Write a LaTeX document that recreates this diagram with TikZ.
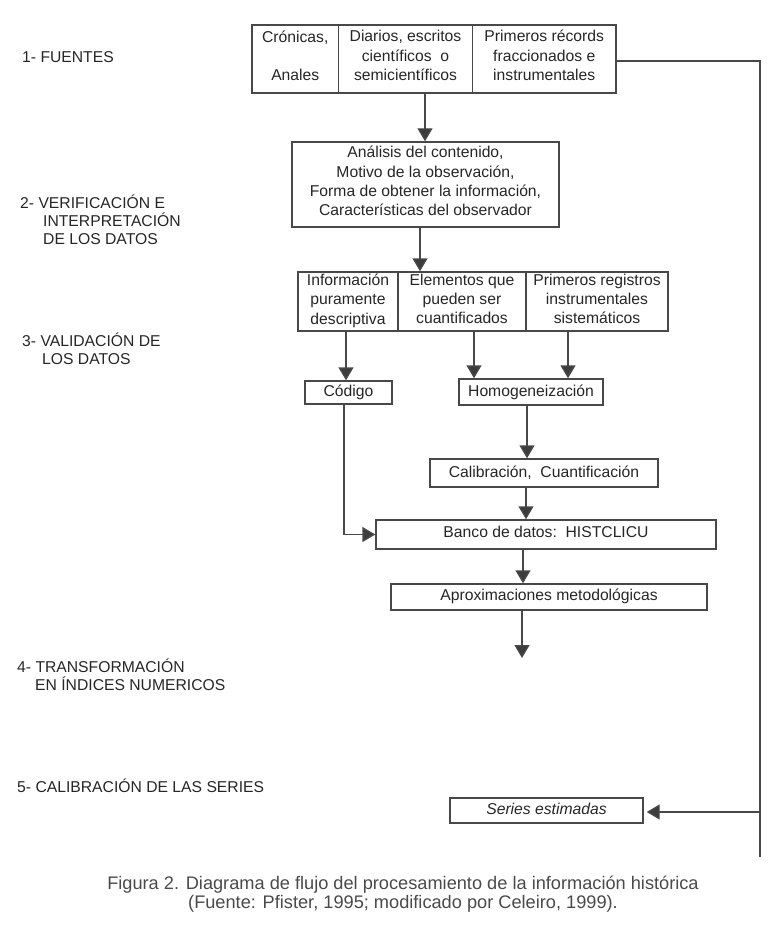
\documentclass[tikz,border=0pt]{standalone}
\usepackage{fontspec}
\setmainfont{Liberation Sans}
\usetikzlibrary{arrows.meta}
\definecolor{linec}{HTML}{484848}
\definecolor{tipc}{HTML}{3C3C3C}
\definecolor{txt}{HTML}{262626}
\definecolor{captxt}{HTML}{4A4A4A}
\begin{document}
\begin{tikzpicture}[x=1pt,y=-1pt,
  box/.style={draw=linec, line width=1.4pt, inner sep=0pt, align=center,
    font=\fontsize{15.7}{19.3}\selectfont, text=txt},
  lift/.style={text depth=#1},
  lab/.style={anchor=west, align=left, inner sep=0pt,
    font=\fontsize{15.7}{18}\selectfont, text=txt},
  conn/.style={draw=linec, line width=1.4pt},
  arr/.style={conn, -{Triangle[length=13pt,width=15pt,fill=tipc]}}
]
\useasboundingbox (0,0) rectangle (782,928);

% left stage labels
\node[lab] (l1) at (22,57) {1- FUENTES};
\node[lab] (l2) at (20,220) {2- VERIFICACIÓN E\\\hspace*{23pt}INTERPRETACIÓN\\\hspace*{23pt}DE LOS DATOS};
\node[lab] (l3) at (22,349) {3- VALIDACIÓN DE\\\hspace*{20pt}LOS DATOS};
\node[lab] (l4) at (17,675) {4- TRANSFORMACIÓN\\\hspace*{18pt}EN ÍNDICES NUMERICOS};
\node[lab] (l5) at (17,786) {5- CALIBRACIÓN DE LAS SERIES};

% top row
\node[box, lift=7pt, minimum width=86.5pt, minimum height=68pt] (c1) at (295.25,59) {Crónicas,\\[19pt]Anales};
\node[box, lift=7pt, minimum width=134pt, minimum height=68pt] (c2) at (405.5,59) {Diarios, escritos\\científicos\ \ o\\semicientíficos};
\node[box, lift=7pt, minimum width=143.5pt, minimum height=68pt] (c3) at (544.25,59) {Primeros récords\\fraccionados e\\instrumentales};

% verification box
\node[box, lift=7pt, minimum width=267pt, minimum height=85pt] (b2) at (425.5,184.5)
  {Análisis del contenido,\\Motivo de la observación,\\Forma de obtener la información,\\Características del observador};

% validation row
\node[box, lift=5pt, minimum width=100pt, minimum height=59pt] (d1) at (348,301.5) {Información\\puramente\\descriptiva};
\node[box, lift=5pt, minimum width=128pt, minimum height=59pt] (d2) at (462,301.5) {Elementos que\\pueden ser\\cuantificados};
\node[box, lift=5pt, minimum width=142pt, minimum height=59pt] (d3) at (597,301.5) {Primeros registros\\instrumentales\\sistemáticos};

\node[box, minimum width=87pt, minimum height=23pt] (cod) at (348.5,392.5) {\raisebox{2pt}{Código}};
\node[box, minimum width=144pt, minimum height=26pt] (hom) at (531,392) {Homogeneización};
\node[box, minimum width=228pt, minimum height=28pt] (cal) at (544,473) {Calibración,\ \ Cuantificación};
\node[box, minimum width=340pt, minimum height=29pt] (ban) at (546,534.5) {\raisebox{6pt}{Banco de datos:\ \ HISTCLICU}};
\node[box, minimum width=316pt, minimum height=26pt] (apr) at (549,597) {\raisebox{4pt}{Aproximaciones metodológicas}};
\node[box, minimum width=193pt, minimum height=25pt] (ser) at (546.5,810.5) {\raisebox{3pt}{\itshape Series estimadas}};

% caption
\node[align=center, inner sep=0pt, text=captxt, font=\fontsize{18.2}{19.5}\selectfont] (cap) at (403,894)
  {Figura 2. Diagrama de flujo del procesamiento de la información histórica\\(Fuente: Pfister, 1995; modificado por Celeiro, 1999).};

% helper x positions
\coordinate (xa) at (425,0);
\coordinate (xb) at (420,0);
\coordinate (xd1) at (346,0);
\coordinate (xd2) at (474,0);
\coordinate (xd3) at (568,0);
\coordinate (xh) at (527,0);
\coordinate (xc) at (526,0);
\coordinate (xk) at (344,0);
\coordinate (xbn) at (523,0);
\coordinate (end4) at (522,658);
\coordinate (rt) at (760,61);
\coordinate (rb) at (760,857);
\coordinate (rs) at (760,812);

% connectors
\draw[arr] (c2.south -| xa) -- (b2.north -| xa);
\draw[arr] (b2.south -| xb) -- (d2.north -| xb);
\draw[arr] (d1.south -| xd1) -- (cod.north -| xd1);
\draw[arr] (d2.south -| xd2) -- (hom.north -| xd2);
\draw[arr] (d3.south -| xd3) -- (hom.north -| xd3);
\draw[arr] (hom.south -| xh) -- (cal.north -| xh);
\draw[arr] (cal.south -| xc) -- (ban.north -| xc);
\draw[arr] (cod.south -| xk) |- (ban.west);
\draw[arr] (ban.south -| xbn) -- (apr.north -| xbn);
\draw[arr] (apr.south -| end4) -- (end4);
\draw[conn] (c3.east |- rt) -- (rt) -- (rb);
\draw[arr, shorten >=3pt] (rs) -- (ser.east |- rs);
\end{tikzpicture}
\end{document}
